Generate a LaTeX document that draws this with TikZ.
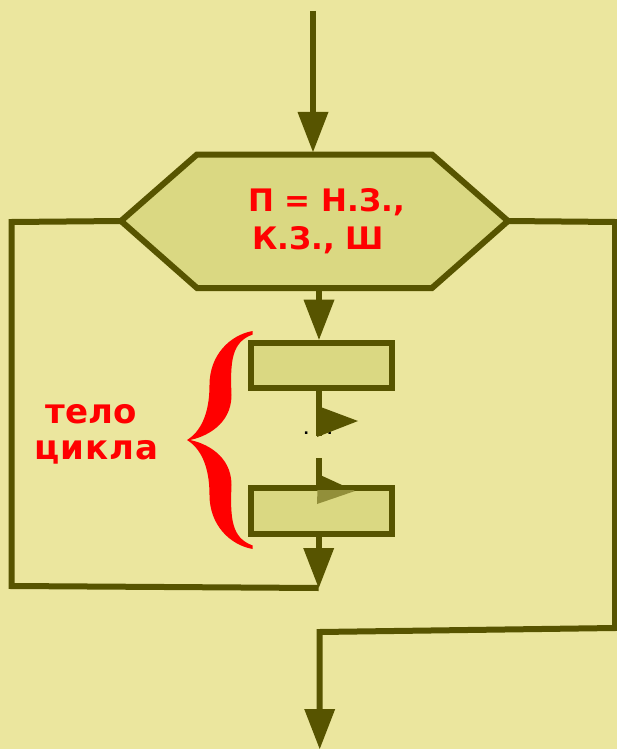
\documentclass[tikz,border=0pt]{standalone}
\usepackage{fontspec}
\setmainfont{DejaVu Sans}
\usetikzlibrary{arrows.meta}
\definecolor{bgc}{HTML}{EBE69E}
\definecolor{olv}{HTML}{575400}
\definecolor{fillc}{HTML}{DAD882}
\colorlet{olvlight}{olv!55!fillc}
\begin{document}
\begin{tikzpicture}[x=1pt,y=-1pt,
  line/.style={draw=olv,line width=6pt},
  arr/.style={line,-{Triangle[width=31pt,length=40pt,line width=0pt]}},
  blockbox/.style={draw=olv,fill=fillc,line width=6pt,minimum width=141pt,inner sep=0pt},
  lbl/.style={text=red,font=\bfseries\fontsize{31}{31}\selectfont,inner sep=0pt,anchor=base west},
  lbltwo/.style={text=red,font=\bfseries\fontsize{34}{34}\selectfont,inner sep=0pt,anchor=base},
  dotsfont/.style={font=\bfseries\fontsize{14}{14}\selectfont,inner sep=0pt,anchor=base,text=black}
]
\useasboundingbox (0,0) rectangle (617,749);
\fill[bgc] (0,0) rectangle (617,749);

% coordinates
\coordinate (top) at (313,11);
\coordinate (hexN) at (313,152);
\coordinate (hexS) at (319,290);
\coordinate (hexW) at (121,221);
\coordinate (hexE) at (508,221);
\coordinate (lc1) at (11.5,222);
\coordinate (lc2) at (11.5,586);
\coordinate (rc1) at (615,222);
\coordinate (rc2) at (615,628);
\coordinate (rc3) at (319.7,632);
\coordinate (exit) at (319.7,749);
\coordinate (g1) at (318.7,436);
\coordinate (g2) at (318.7,458);
\coordinate (j1) at (318.7,588);

% blocks
\node[blockbox,minimum height=45.6pt] (b1) at (321.5,365.5) {};
\node[blockbox,minimum height=46.5pt] (b2) at (321.5,510.75) {};

% dots
\node[dotsfont] (dots) at (318,434) {. . .};

% connectors
\draw[arr] (top) -- (hexN);
\draw[line] (hexW) -- (lc1) -- (lc2) -- (j1);
\draw[arr] (hexE) -- (rc1) -- (rc2) -- (rc3) -- (exit);
\draw[arr] (hexS) -- (hexS |- b1.north);
\draw[line] (b1.south -| g1) -- (g1);
\fill[olv] (318,406) -- (358,421) -- (317,437) -- cycle;
\draw[line] (g2) -- (g2 |- b2.north);
\draw[arr] (b2.south -| j1) -- (j1);
\begin{scope}
  \clip (300,440) rectangle (370,484.5);
  \fill[olv] (318,474) -- (355,491) -- (317,504) -- cycle;
\end{scope}
\begin{scope}
  \clip (300,490.5) rectangle (370,520);
  \fill[olvlight] (318,474) -- (355,491) -- (317,504) -- cycle;
\end{scope}

% hexagon
\filldraw[fill=fillc,draw=olv,line width=6pt] (hexW) -- (197,154.5) -- (432,154.5) -- (hexE) -- (432,288) -- (197,288) -- cycle;
\node[lbl] (t1) at (248,211) {П = Н.З.,};
\node[lbl] (t2) at (252,249) {К.З., Ш};

% label
\node[lbltwo] (c1) at (91.5,423) {тело};
\node[lbltwo] (c2) at (96.5,459) {\addfontfeature{LetterSpace=3}цикла};

% brace
\fill[red] (252.7,331) .. controls (230,335) and (209.5,355) .. (209.5,385)
  .. controls (209.5,415) and (200,432) .. (187,440)
  .. controls (200,448) and (209.5,465) .. (209.5,495)
  .. controls (209.5,525) and (230,545) .. (252.7,549)
  -- (252.7,545.5)
  .. controls (232,538) and (230,520) .. (231.5,485)
  .. controls (231.5,455) and (205,443) .. (190,440)
  .. controls (205,437) and (231.5,425) .. (231.5,395)
  .. controls (230,360) and (232,342) .. (252.7,334.5) -- cycle;
\end{tikzpicture}
\end{document}
